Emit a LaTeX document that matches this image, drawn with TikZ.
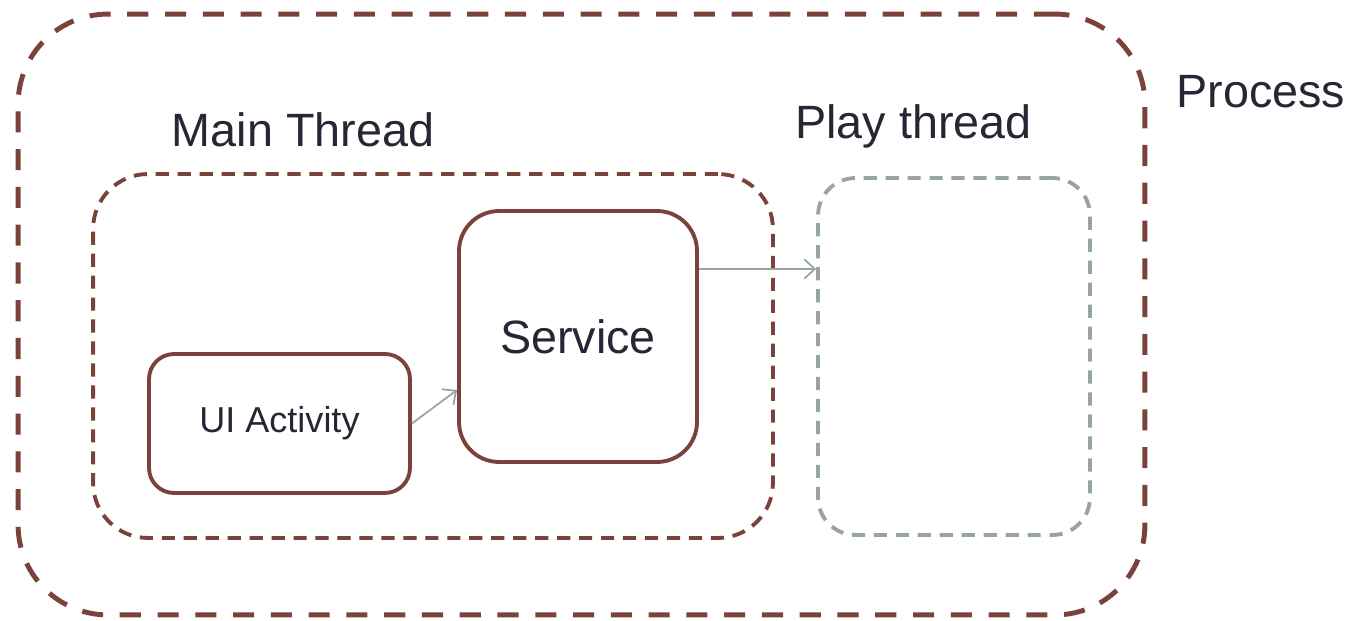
\documentclass[tikz,border=0pt]{standalone}
\usepackage{fontspec}
\setmainfont{Liberation Sans}
\usetikzlibrary{arrows.meta}
\definecolor{brownline}{RGB}{122,66,58}
\definecolor{sageline}{RGB}{150,166,156}
\definecolor{inktext}{RGB}{38,38,52}
\tikzset{
  box/.style={draw, rectangle, inner sep=0pt, text=inktext},
  procbox/.style={box, draw=brownline, line width=2.8pt, dash pattern=on 12pt off 9.5pt, rounded corners=1.8cm},
  threadbox/.style={box, draw=brownline, line width=2.2pt, dash pattern=on 7.5pt off 5pt, rounded corners=1.1cm},
  idlebox/.style={box, draw=sageline, line width=2.2pt, dash pattern=on 7.5pt off 5pt, rounded corners=0.75cm},
  compbox/.style={box, draw=brownline, line width=2.2pt, rounded corners=#1},
  title/.style={text=inktext, font=\fontsize{26.6pt}{30pt}\selectfont, inner sep=0pt},
  flow/.style={draw=sageline, line width=1pt, -{Straight Barb[length=6pt,width=11pt,line width=1pt]}}
}
\begin{document}
\begin{tikzpicture}[x=0.02cm, y=-0.02cm]
\useasboundingbox (0,0) rectangle (1354,621);
% outer process container
\node[procbox, minimum width=22.54cm, minimum height=12.02cm] (proc) at (581.5,314.5) {};
\node[title, anchor=west] (proctxt) at (1176,92) {Process};
% main thread
\node[threadbox, minimum width=13.6cm, minimum height=7.28cm] (main) at (433,356) {};
\node[title] (maintxt) at (303,130) {Main Thread};
% play thread
\node[idlebox, minimum width=5.44cm, minimum height=7.14cm] (play) at (954,356.5) {};
\node[title] (playtxt) at (913.5,126) {Play thread};
% components
\node[compbox=0.8cm, minimum width=4.76cm, minimum height=5.02cm, font=\fontsize{26.6pt}{30pt}\selectfont] (svc) at (578,336.5) {Service};
\node[compbox=0.5cm, minimum width=5.22cm, minimum height=2.78cm, font=\fontsize{20.5pt}{24pt}\selectfont] (ui) at (279.5,423.5) {UI Activity};
% connectors
\draw[flow] (ui.east) -- ([yshift=-1.07cm]svc.west);
\draw[flow] ([yshift=1.35cm]svc.east) coordinate (svcout) -- (svcout -| play.west);
\end{tikzpicture}
\end{document}
